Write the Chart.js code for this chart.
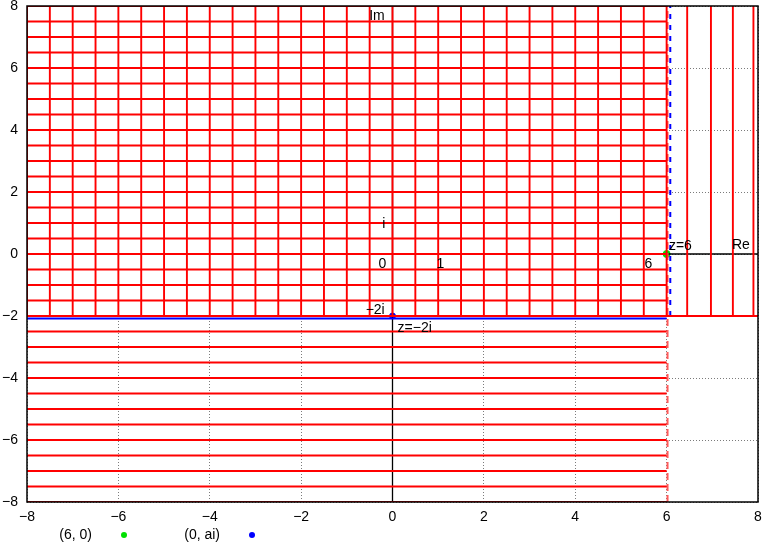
<!DOCTYPE html>
<html>
<head>
<meta charset="utf-8">
<script src="https://cdn.jsdelivr.net/npm/chart.js@4"></script>
<style>
html,body{margin:0;padding:0;background:#fff;}
#c{display:block;}
</style>
</head>
<body>
<canvas id="c" width="763" height="545"></canvas>
<script>
// ---- data ----
const xTicks = [-8, -6, -4, -2, 0, 2, 4, 6, 8];
const yTicks = [-8, -6, -4, -2, 0, 2, 4, 6, 8];
// red grid, upper region (Im >= -2): vertical lines x, horizontal lines y
const upperX = [-8,-7.5,-7,-6.5,-6,-5.5,-5,-4.5,-4,-3.5,-3,-2.5,-2,-1.5,-1,-0.5,0,0.5,1,1.5,2,2.5,3,3.5,4,4.5,5,5.5,6];
const upperY = [-2,-1.5,-1,-0.5,0,0.5,1,1.5,2,2.5,3,3.5,4,4.5,5,5.5,6,6.5,7,7.5,8];
// red horizontal lines, lower region
const lowerY = [-8,-7.5,-7,-6.5,-6,-5.5,-5,-4.5,-4,-3.5,-3,-2.5];
// red vertical lines right of Re = 6
const rightX = [6.45, 6.97, 7.45, 7.9];
// special lines
const redDashX = 6.02;
const blueDashX = 6.08;
const blueLineY = -2.08;
// points
const pointGreen = {label: '(6, 0)', x: 6, y: 0};
const pointBlue = {label: '(0, ai)', x: 0, y: -2};
// annotation texts (data coordinates)
const notes = [
  {t: 'Im', x: -0.17, y: 7.68, a: 'right'},
  {t: 'Re', x: 7.43, y: 0.29, a: 'left'},
  {t: 'z=6', x: 6.05, y: 0.26, a: 'left'},
  {t: '0', x: -0.22, y: -0.34, a: 'center'},
  {t: '1', x: 1.05, y: -0.34, a: 'center'},
  {t: '6', x: 5.6, y: -0.34, a: 'center'},
  {t: 'i', x: -0.19, y: 0.95, a: 'center'},
  {t: '\u22122i', x: -0.17, y: -1.8, a: 'right'},
  {t: 'z=\u22122i', x: 0.11, y: -2.38, a: 'left'}
];

// ---- build segments ----
function segs(list) {
  const out = [];
  list.forEach(s => {
    out.push({x: s[0], y: s[1]}, {x: s[2], y: s[3]}, {x: s[2], y: null});
  });
  return out;
}
const redSegs = [];
upperX.forEach(x => redSegs.push([x, -2, x, 8]));
upperY.forEach(y => redSegs.push([-8, y, (y === -2 ? 8 : 6), y]));
lowerY.forEach(y => redSegs.push([-8, y, 6, y]));
rightX.forEach(x => redSegs.push([x, -2, x, 8]));

const FONT = "'Liberation Sans', Arial, sans-serif";
const minus = v => String(v).replace('-', '\u2212');

const lineDefaults = {showLine: true, pointRadius: 0, pointHoverRadius: 0, spanGaps: false, fill: false, tension: 0};

const extras = {
  id: 'extras',
  afterDatasetsDraw(chart) {
    const ctx = chart.ctx, a = chart.chartArea;
    const xs = chart.scales.x, ys = chart.scales.y;
    ctx.save();
    // border
    ctx.strokeStyle = '#000';
    ctx.lineWidth = 1.5;
    ctx.strokeRect(a.left, a.top, a.right - a.left, a.bottom - a.top);
    // notes
    ctx.fillStyle = '#000';
    ctx.font = '14px ' + FONT;
    ctx.textBaseline = 'middle';
    notes.forEach(n => {
      ctx.textAlign = n.a;
      ctx.fillText(n.t, xs.getPixelForValue(n.x), ys.getPixelForValue(n.y));
    });
    ctx.restore();
  },
  afterDraw(chart) {
    const ctx = chart.ctx;
    ctx.save();
    ctx.font = '14px ' + FONT;
    ctx.textBaseline = 'middle';
    ctx.textAlign = 'right';
    const y = 535;
    let xr = 92;
    chart.data.datasets.forEach(ds => {
      if (!ds.legendItem) return;
      ctx.fillStyle = '#000';
      ctx.fillText(ds.label, xr, y);
      ctx.beginPath();
      ctx.fillStyle = ds.pointBackgroundColor;
      ctx.arc(xr + 32, y, 3, 0, Math.PI * 2);
      ctx.fill();
      xr += 128;
    });
    ctx.restore();
  }
};

new Chart(document.getElementById('c'), {
  type: 'scatter',
  data: {
    datasets: [
      Object.assign({label: 'grid', data: segs(redSegs), borderColor: '#ff0000', borderWidth: 1.9}, lineDefaults),
      Object.assign({label: 'Re=6 dashed', data: segs([[redDashX, -8, redDashX, 8]]), borderColor: '#ff5a5a', borderWidth: 2, borderDash: [7, 4]}, lineDefaults),
      Object.assign({label: 'blue dashed', data: segs([[blueDashX, -2, blueDashX, 8]]), borderColor: '#0000ff', borderWidth: 2, borderDash: [5, 6]}, lineDefaults),
      Object.assign({label: 'blue line', data: segs([[-8, blueLineY, 6, blueLineY]]), borderColor: '#0000ff', borderWidth: 2}, lineDefaults),
      Object.assign({label: 'axes', data: segs([[-8, 0, 8, 0], [0, -8, 0, 8]]), borderColor: '#000', borderWidth: 1.3}, lineDefaults),
      {label: pointGreen.label, legendItem: true, data: [{x: pointGreen.x, y: pointGreen.y}], pointRadius: 3.5, pointBackgroundColor: '#00e000', pointBorderColor: '#00e000', showLine: false},
      {label: pointBlue.label, legendItem: true, data: [{x: pointBlue.x, y: pointBlue.y}], pointRadius: 3, pointBackgroundColor: '#0000ff', pointBorderColor: '#0000ff', showLine: false}
    ]
  },
  options: {
    responsive: false,
    animation: false,
    devicePixelRatio: 1,
    layout: {padding: {top: 6, right: 4, left: 0, bottom: 0}},
    plugins: {legend: {display: false}, tooltip: {enabled: false}},
    events: [],
    scales: {
      x: {
        type: 'linear', min: -8, max: 8, z: 1,
        afterBuildTicks: s => { s.ticks = xTicks.map(v => ({value: v})); },
        afterFit: s => { s.height = 43; s.paddingLeft = 0; s.paddingRight = 0; },
        ticks: {color: '#000', font: {size: 14, family: FONT}, padding: 7, maxRotation: 0, autoSkip: false, callback: v => minus(v)},
        grid: {color: 'rgba(100,100,100,0.85)', lineWidth: 1, drawTicks: false},
        border: {display: false, dash: [1, 2]}
      },
      y: {
        type: 'linear', min: -8, max: 8, z: 1,
        afterBuildTicks: s => { s.ticks = yTicks.map(v => ({value: v})); },
        afterFit: s => { s.width = 27; s.paddingTop = 0; s.paddingBottom = 0; },
        ticks: {color: '#000', font: {size: 14, family: FONT}, padding: 9, autoSkip: false, callback: v => minus(v)},
        grid: {color: 'rgba(100,100,100,0.85)', lineWidth: 1, drawTicks: false},
        border: {display: false, dash: [1, 2]}
      }
    }
  },
  plugins: [extras]
});
</script>
</body>
</html>
